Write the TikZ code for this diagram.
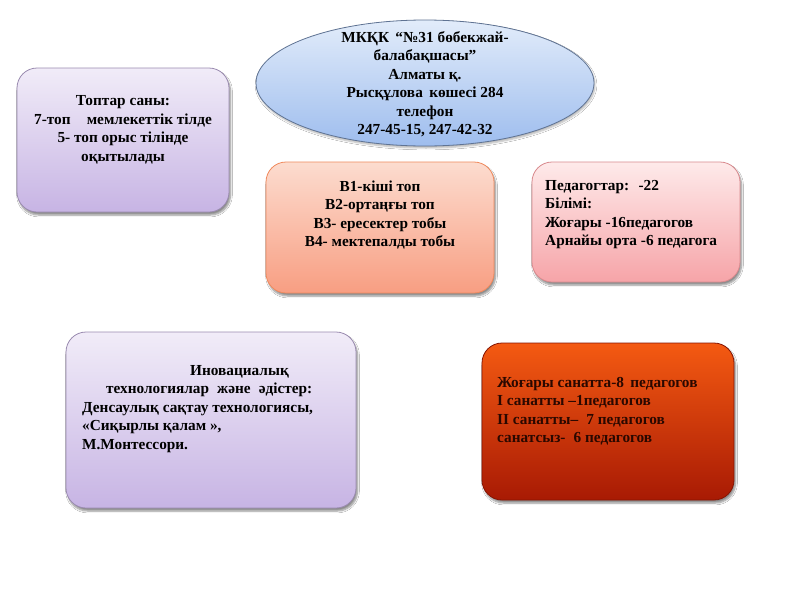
\documentclass[tikz,border=0pt]{standalone}
\usepackage{fontspec}
\setmainfont{Liberation Serif}
\usetikzlibrary{shapes.geometric,shadows.blur}
\definecolor{lavtop}{HTML}{F1ECF8}
\definecolor{lavbot}{HTML}{C7B4E4}
\definecolor{lavline}{HTML}{9A8BB0}
\definecolor{bluetop}{HTML}{E2ECFA}
\definecolor{bluebot}{HTML}{9EBDEE}
\definecolor{blueline}{HTML}{5F7393}
\definecolor{saltop}{HTML}{FCDCCF}
\definecolor{salbot}{HTML}{F89E82}
\definecolor{salline}{HTML}{F08A5D}
\definecolor{pinktop}{HTML}{FEEAEA}
\definecolor{pinkbot}{HTML}{F6A4A8}
\definecolor{pinkline}{HTML}{D98A8E}
\definecolor{redtop}{HTML}{F45A12}
\definecolor{redbot}{HTML}{A81A04}
\definecolor{redtext}{HTML}{2A0800}
\tikzset{
  card/.style={rounded corners=20pt, line width=0.8pt,
    blur shadow={shadow xshift=1.5pt, shadow yshift=-3pt, shadow blur steps=6, shadow opacity=45}},
  lav/.style={card, draw=lavline, top color=lavtop, bottom color=lavbot},
  sal/.style={card, draw=salline, top color=saltop, bottom color=salbot},
  pinkc/.style={card, draw=pinkline, top color=pinktop, bottom color=pinkbot},
  redc/.style={card, draw=redbot!80!black, top color=redtop, bottom color=redbot},
  txt/.style={font=\fontsize{15.3}{18.5}\selectfont\bfseries, text=black, inner sep=0pt}
}
\begin{document}
\begin{tikzpicture}[x=1pt,y=-1pt]
\useasboundingbox (0,0) rectangle (800,600);
\fill[white] (0,0) rectangle (800,600);
% boxes
\node[lav, minimum width=212pt, minimum height=144pt] (groups) at (123,140) {};
\node[ellipse, draw=blueline, line width=0.8pt, top color=bluetop, bottom color=bluebot,
  minimum width=338pt, minimum height=126pt,
  blur shadow={shadow xshift=1pt, shadow yshift=-2pt, shadow blur steps=5, shadow opacity=30}] (kg) at (425,83) {};
\node[sal, minimum width=228pt, minimum height=131pt] (ages) at (380,227.5) {};
\node[pinkc, minimum width=208pt, minimum height=120pt] (teach) at (636,222) {};
\node[lav, minimum width=290pt, minimum height=176pt] (innov) at (211,420) {};
\node[redc, minimum width=252pt, minimum height=157pt] (cat) at (608,421.5) {};
% texts
\node[txt, align=center] (kgt) at (425,84) {МКҚК \,“№31 бөбекжай-\\балабақшасы”\\Алматы қ.\\Рысқұлова \,көшесі 284\\телефон\\247-45-15, 247-42-32};
\node[txt, align=center] (groupst) at (123,130) {Топтар саны:\\7-топ \;\; мемлекеттік тілде\\5- топ орыс тілінде\\оқытылады};
\node[txt, align=center] (agest) at (380,215) {В1-кіші топ\\В2-ортаңғы топ\\В3- ересектер тобы\\В4- мектепалды тобы};
\node[txt, align=left, anchor=west] (teacht) at (545,214.5) {Педагогтар: \;-22\\Білімі:\\Жоғары -16педагогов\\Арнайы орта -6 педагога};
\node[txt, align=left, anchor=west] (innovt) at (82,409) {\hspace*{108pt}Иновациалық\\\hspace*{24pt}технологиялар \;және \;әдістер:\\Денсаулық сақтау технологиясы,\\«Сиқырлы қалам »,\\М.Монтессори.};
\node[txt, align=left, anchor=west, text=redtext] (catt) at (497,411) {Жоғары санатта-8 \,педагогов\\I санатты –1педагогов\\II санатты– \;7 педагогов\\санатсыз- \;6 педагогов};
\end{tikzpicture}
\end{document}
